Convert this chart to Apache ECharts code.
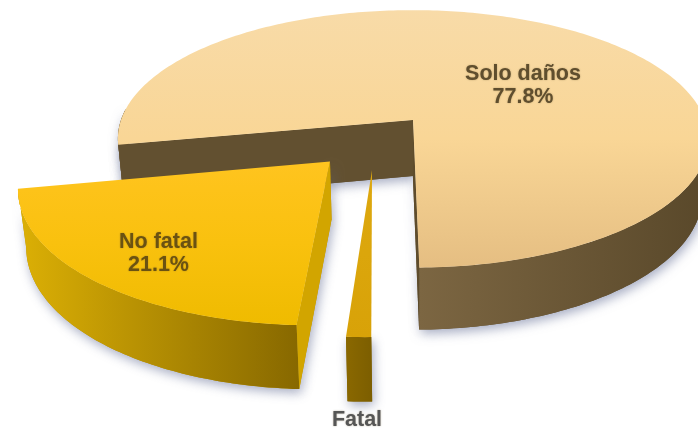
<!DOCTYPE html>
<html>
<head>
<meta charset="utf-8">
<style>html,body{margin:0;padding:0;background:#fff}#chart{width:698px;height:429px}</style>
<script src="https://cdn.jsdelivr.net/npm/echarts@6/dist/echarts.min.js"></script>
</head>
<body>
<div id="chart"></div>
<script>
// Crash severity shares, drawn as an exploded perspective pie
const categories = ['Solo daños', 'No fatal', 'Fatal'];
const shares = [77.8, 21.1, 1.1];
// Order in which the wedges follow one another around the pie
const sweepOrder = [0, 2, 1];

// Camera and pie geometry
const view = {
  centerX: 408, centerY: 120, radiusX: 292, radiusZ: 126,
  thickness: 57, tilt: 0.147, sink: 0.02, firstAngle: 79
};
// Each wedge's displacement across and towards the viewer
const explodeX = [5, -74.4, -34];
const explodeZ = [0, 0.315, 0.375];
const labelX = [523, 158.5, 357];
const labelY = [86, 254, 420];

const wedgeStyles = [
  {
    top: ['#F8DBA8', '#F9D696', '#E5BE82'],
    rim: ['#7C6642', '#59482A'], startWall: '#625030', endWall: '#5E4C2C', shade: '#5E4C2C'
  },
  {
    top: ['#FFC41F', '#F9C10E', '#EFBB00'],
    rim: ['#DCB005', '#876800'], startWall: '#D2A500', endWall: null, shade: '#B58E00'
  },
  {
    top: ['#DDA70E', '#DBA60C', '#D8A208'],
    rim: ['#8A6800', '#7C5E00'], startWall: null, endWall: null, shade: '#7C5E00'
  }
];

// Perspective projection of a point on the pie: x across, z towards the viewer, h downwards
function project(x, z, h) {
  const s = 1 / (1 - view.tilt * z + view.sink * h);
  return [view.centerX + x * s, view.centerY + (view.radiusZ * z + view.thickness * h) * s];
}

function wedgeAngles() {
  // Angles run clockwise from the front of the pie
  const out = [];
  let start = view.firstAngle;
  sweepOrder.forEach(function (i) {
    const sweep = shares[i] * 3.6;
    out[i] = [start, start + sweep];
    start += sweep;
  });
  return out;
}

function rimPoint(i, deg, h) {
  const a = deg * Math.PI / 180;
  return project(explodeX[i] - Math.sin(a) * view.radiusX, explodeZ[i] + Math.cos(a), h);
}

function arc(i, from, to, h) {
  const pts = [];
  const steps = Math.max(2, Math.ceil(Math.abs(to - from)));
  for (let k = 0; k <= steps; k++) pts.push(rimPoint(i, from + (to - from) * k / steps, h));
  return pts;
}

// Parts of an angular range that lie on the front half of the pie, where the rim can be seen
function frontRanges(from, to) {
  const parts = [];
  [[-95, 95], [265, 455]].forEach(function (w) {
    const a = Math.max(from, w[0]);
    const b = Math.min(to, w[1]);
    if (b > a) parts.push([a, b]);
  });
  return parts;
}

function fillOf(colors) {
  const stops = colors.map(function (c, k) { return { offset: k / (colors.length - 1), color: c }; });
  return new echarts.graphic.LinearGradient(0, 0, 0, 1, stops);
}

function renderWedge(params) {
  const i = params.dataIndex;
  const range = wedgeAngles()[i];
  const style = wedgeStyles[i];
  const apexTop = project(explodeX[i], explodeZ[i], 0);
  const apexBottom = project(explodeX[i], explodeZ[i], 1);
  const topArc = arc(i, range[0], range[1], 0);
  const bottomArc = arc(i, range[0], range[1], 1);
  const topFace = [apexTop].concat(topArc);
  const startFace = [apexTop, topArc[0], bottomArc[0], apexBottom];
  const endFace = [apexTop, topArc[topArc.length - 1], bottomArc[bottomArc.length - 1], apexBottom];
  const rimFaces = frontRanges(range[0], range[1]).map(function (r) {
    return arc(i, r[0], r[1], 0).concat(arc(i, r[0], r[1], 1).reverse());
  });
  const glow = { shadowBlur: 11, shadowColor: 'rgba(95,105,145,0.55)', shadowOffsetX: 2, shadowOffsetY: 4 };
  const poly = function (points, fill, extra) {
    return { type: 'polygon', shape: { points: points }, style: Object.assign({ fill: fill }, extra || {}) };
  };
  const rimFill = new echarts.graphic.LinearGradient(0, 0, 1, 0, [
    { offset: 0, color: style.rim[0] },
    { offset: 1, color: style.rim[1] }
  ]);
  const children = [];
  // Soft shadow under the solid, then its visible faces from back to front
  rimFaces.forEach(function (f) { children.push(poly(f, style.shade, glow)); });
  if (style.startWall) children.push(poly(startFace, style.shade, glow));
  if (style.endWall) children.push(poly(endFace, style.shade, glow));
  rimFaces.forEach(function (f) { children.push(poly(f, rimFill)); });
  if (style.startWall) children.push(poly(startFace, style.startWall));
  if (style.endWall) children.push(poly(endFace, style.endWall));
  children.push(poly(topFace, fillOf(style.top)));
  children.push({
    type: 'text',
    style: {
      text: categories[i] + (i === 2 ? '' : '\n' + shares[i].toFixed(1) + '%'),
      x: labelX[i], y: labelY[i], align: 'center', verticalAlign: 'middle',
      font: 'bold 21.5px "Liberation Sans", Arial, sans-serif', lineHeight: 23,
      fill: ['#5F4E2E', '#6A5212', '#565656'][i],
      textShadowBlur: 2, textShadowColor: 'rgba(90,70,30,0.4)'
    }
  });
  return { type: 'group', children: children };
}

const chart = echarts.init(document.getElementById('chart'), null, { renderer: 'canvas' });
chart.setOption({
  animation: false,
  backgroundColor: '#ffffff',
  series: [{
    type: 'custom',
    coordinateSystem: 'none',
    silent: true,
    clip: false,
    renderItem: renderWedge,
    data: shares.map(function (v, i) { return { name: categories[i], value: v }; })
  }]
});
</script>
</body>
</html>
